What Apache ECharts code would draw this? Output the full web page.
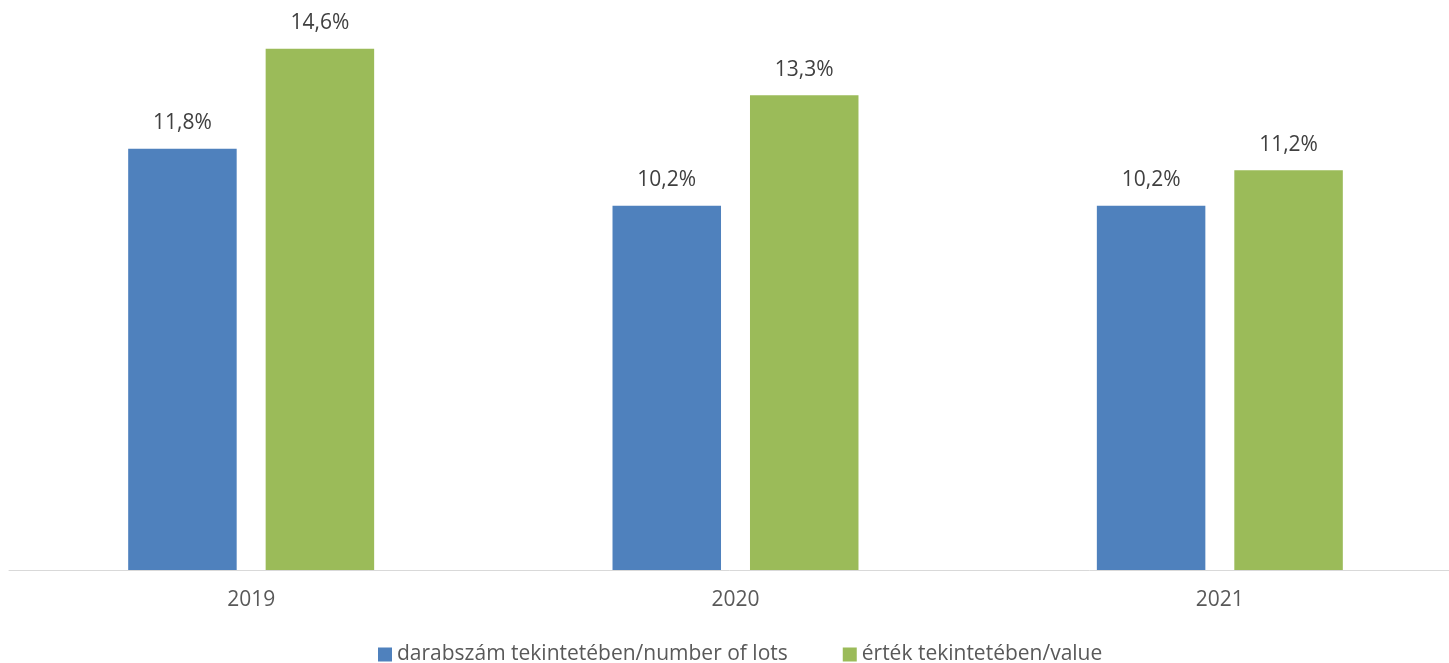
<!DOCTYPE html>
<html>
<head>
<meta charset="utf-8">
<script src="https://cdn.jsdelivr.net/npm/echarts@6/dist/echarts.min.js"></script>
<style>html,body{margin:0;padding:0;background:#fff}#c{width:1449px;height:663px}</style>
</head>
<body>
<div id="c"></div>
<script>
const categories = ['2019', '2020', '2021'];
const seriesNames = ['darabszám tekintetében/number of lots', 'érték tekintetében/value'];
const lotsValues = [11.8, 10.2, 10.2];
const valueValues = [14.6, 13.3, 11.2];

const FONT = '"Open Sans", sans-serif';
const fmt = p => p.value.toFixed(1).replace('.', ',') + '%';

const chart = echarts.init(document.getElementById('c'), null, {renderer: 'canvas'});
chart.setOption({
  animation: false,
  backgroundColor: '#ffffff',
  grid: {left: 9, width: 1453, top: 34.5, bottom: 93, containLabel: false, outerBoundsMode: 'none'},
  legend: {
    left: 378, top: 644, padding: 0,
    itemWidth: 14, itemHeight: 14, itemGap: 55,
    icon: 'rect',
    textStyle: {fontFamily: FONT, fontSize: 21, color: '#595959'},
    data: seriesNames
  },
  xAxis: {
    type: 'category',
    data: categories,
    axisLine: {lineStyle: {color: '#d9d9d9', width: 1}},
    axisTick: {show: false},
    axisLabel: {fontFamily: FONT, fontSize: 21, color: '#595959', margin: 20}
  },
  yAxis: {
    type: 'value', min: 0, max: 15,
    show: false,
    splitLine: {show: false}
  },
  series: [
    {
      name: seriesNames[0], type: 'bar', data: lotsValues,
      barWidth: 108.5, barGap: '26.7%',
      itemStyle: {color: '#4F81BD'},
      label: {show: true, position: 'top', distance: 15, formatter: fmt,
        fontFamily: FONT, fontSize: 21, color: '#404040'}
    },
    {
      name: seriesNames[1], type: 'bar', data: valueValues,
      barWidth: 108.5, barGap: '26.7%',
      itemStyle: {color: '#9BBB59'},
      label: {show: true, position: 'top', distance: 15, formatter: fmt,
        fontFamily: FONT, fontSize: 21, color: '#404040'}
    }
  ]
});
</script>
</body>
</html>
